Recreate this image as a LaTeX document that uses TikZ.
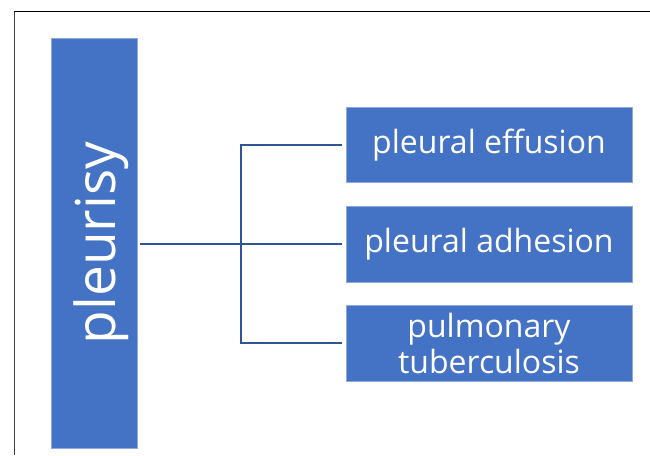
\documentclass[tikz,border=0pt]{standalone}
\usepackage{fontspec}
\setmainfont{Open Sans}
\usetikzlibrary{positioning}
\definecolor{boxblue}{HTML}{4472C4}
\definecolor{linkblue}{HTML}{2F5597}
\definecolor{rimblue}{HTML}{8FAADC}

\begin{document}
\begin{tikzpicture}[x=1pt, y=-1pt, node distance=23pt,
  block/.style={fill=boxblue, draw=rimblue, line width=0.6pt, text=white, minimum width=286pt, minimum height=75.5pt, inner sep=0pt, align=center, font=\fontsize{32}{36}\selectfont},
  link/.style={draw=linkblue, line width=1.6pt}]

  % Frame
  \useasboundingbox (0,0) rectangle (650,455);
  \draw[line width=1pt, black!75] (14,455) -- (14,11.5);
  \draw[line width=1pt] (14,11.5) -- (650,11.5);

  % Main bar
  \node[block, minimum width=86pt, minimum height=410pt] (pleurisy) at (94,243) {};
  \node[text=white, inner sep=0pt, rotate=90] (pleurisytext) at ([xshift=7pt]pleurisy.center) {\fontsize{55}{60}\selectfont pleurisy};

  % Branch boxes
  \node[block] (effusion) at (489,145) {pleural effusion};
  \node[block, below=of effusion] (adhesion) {pleural adhesion};
  \node[block, below=of adhesion] (tb) {pulmonary\\tuberculosis};

  % Connectors
  \coordinate (split) at (241,244);
  \draw[link, shorten <=3pt] (pleurisy.east |- split) -- (split);
  \draw[link, shorten >=4pt] (split) |- (effusion.west);
  \draw[link, shorten >=4pt] (split) -- (adhesion.west |- split);
  \draw[link, shorten >=4pt] (split) |- (tb.west);

\end{tikzpicture}
\end{document}
